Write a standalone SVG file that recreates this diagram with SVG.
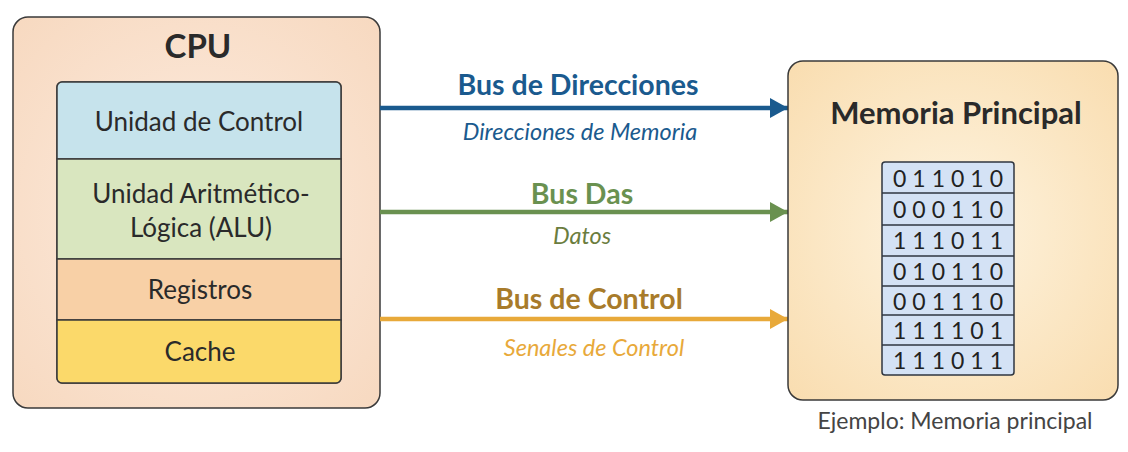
<svg xmlns="http://www.w3.org/2000/svg" width="1128" height="452" viewBox="0 0 1128 452">
<defs>
<radialGradient id="gCpu" cx="0.5" cy="0.5" r="0.7">
<stop offset="0" stop-color="#fdece0"/><stop offset="1" stop-color="#f7d9c0"/>
</radialGradient>
<radialGradient id="gMem" cx="0.5" cy="0.5" r="0.7">
<stop offset="0" stop-color="#fef4e0"/><stop offset="1" stop-color="#f9ddb0"/>
</radialGradient>
<marker id="mBlue" viewBox="0 0 18 20" refX="18" refY="10" markerWidth="18" markerHeight="20" markerUnits="userSpaceOnUse" orient="auto"><path d="M0,0 L18,10 L0,20 Z" fill="#1a5a8e"/></marker>
<marker id="mGreen" viewBox="0 0 18 20" refX="18" refY="10" markerWidth="18" markerHeight="20" markerUnits="userSpaceOnUse" orient="auto"><path d="M0,0 L18,10 L0,20 Z" fill="#6a9150"/></marker>
<marker id="mOrange" viewBox="0 0 18 20" refX="18" refY="10" markerWidth="18" markerHeight="20" markerUnits="userSpaceOnUse" orient="auto"><path d="M0,0 L18,10 L0,20 Z" fill="#e8a93a"/></marker>
</defs>
<style>
text{font-family:Lato,"Open Sans","Liberation Sans",sans-serif;text-anchor:middle}
.box{stroke:#3a3a3a;stroke-width:1.5}
.cell{stroke:#2f3640;stroke-width:1.5}
.lbl{font-size:26px;fill:#2a2a2a}
.bus{font-size:28.5px;font-weight:bold}
.sub{font-size:23.5px;font-style:italic}
.bits{font-size:23px;fill:#222;letter-spacing:6px}
</style>
<rect width="1128" height="452" fill="#ffffff"/>
<g id="cpu">
<rect class="box" x="13" y="17" width="367" height="391" rx="15" fill="url(#gCpu)"/>
<text x="198" y="58" font-size="33" font-weight="bold" fill="#2a2a2a">CPU</text>
<rect class="box" x="57" y="82" width="284" height="301" rx="5" fill="#c6e3ec"/>
</g>
<g id="unidad-control">
<path class="box" d="M57,159 V87 a5,5 0 0 1 5,-5 H336 a5,5 0 0 1 5,5 V159 Z" fill="#c6e3ec"/>
<text class="lbl" x="199" y="131">Unidad de Control</text>
</g>
<g id="alu">
<rect class="box" x="57" y="159" width="284" height="100" fill="#d9e6bf"/>
<text class="lbl" x="201" y="203">Unidad Aritmético-</text>
<text class="lbl" x="201" y="237">Lógica (ALU)</text>
</g>
<g id="registros">
<rect class="box" x="57" y="259" width="284" height="61" fill="#f8d0a6"/>
<text class="lbl" x="200" y="299">Registros</text>
</g>
<g id="cache">
<path class="box" d="M57,320 H341 V378 a5,5 0 0 1 -5,5 H62 a5,5 0 0 1 -5,-5 Z" fill="#fbd96a"/>
<text class="lbl" x="200" y="361">Cache</text>
</g>
<g id="connectors">
<line x1="380" y1="108" x2="788" y2="108" stroke="#1a5a8e" stroke-width="4.5" marker-end="url(#mBlue)"/>
<line x1="380" y1="212" x2="788" y2="212" stroke="#6a9150" stroke-width="4.5" marker-end="url(#mGreen)"/>
<line x1="380" y1="319" x2="788" y2="319" stroke="#e8a93a" stroke-width="4.5" marker-end="url(#mOrange)"/>
<text class="bus" x="578" y="95" fill="#1a5a8e">Bus de Direcciones</text>
<text class="sub" x="580" y="140" fill="#1a5a8e">Direcciones de Memoria</text>
<text class="bus" x="582" y="204" fill="#6a9150">Bus Das</text>
<text class="sub" x="582" y="244" fill="#6b7d3e">Datos</text>
<text class="bus" x="589" y="309" fill="#a87b2a">Bus de Control</text>
<text class="sub" x="594" y="356" fill="#e8a93a">Senales de Control</text>
</g>
<g id="memoria">
<rect class="box" x="788" y="61" width="330" height="339" rx="15" fill="url(#gMem)"/>
<text x="956" y="124" font-size="31" font-weight="bold" fill="#2a2a2a">Memoria Principal</text>
<rect class="cell" x="882" y="162" width="132" height="213" rx="3" fill="#d4e2f5"/>
<line class="cell" x1="882" y1="193" x2="1014" y2="193"/>
<line class="cell" x1="882" y1="225" x2="1014" y2="225"/>
<line class="cell" x1="882" y1="256" x2="1014" y2="256"/>
<line class="cell" x1="882" y1="286" x2="1014" y2="286"/>
<line class="cell" x1="882" y1="315" x2="1014" y2="315"/>
<line class="cell" x1="882" y1="345" x2="1014" y2="345"/>
<text class="bits" x="951" y="187">011010</text>
<text class="bits" x="951" y="218">000110</text>
<text class="bits" x="951" y="249">111011</text>
<text class="bits" x="951" y="280">010110</text>
<text class="bits" x="951" y="310">001110</text>
<text class="bits" x="951" y="339">111101</text>
<text class="bits" x="951" y="369">111011</text>
</g>
<g id="caption">
<text x="955" y="429" font-size="23" fill="#444">Ejemplo: Memoria principal</text>
</g>
</svg>
